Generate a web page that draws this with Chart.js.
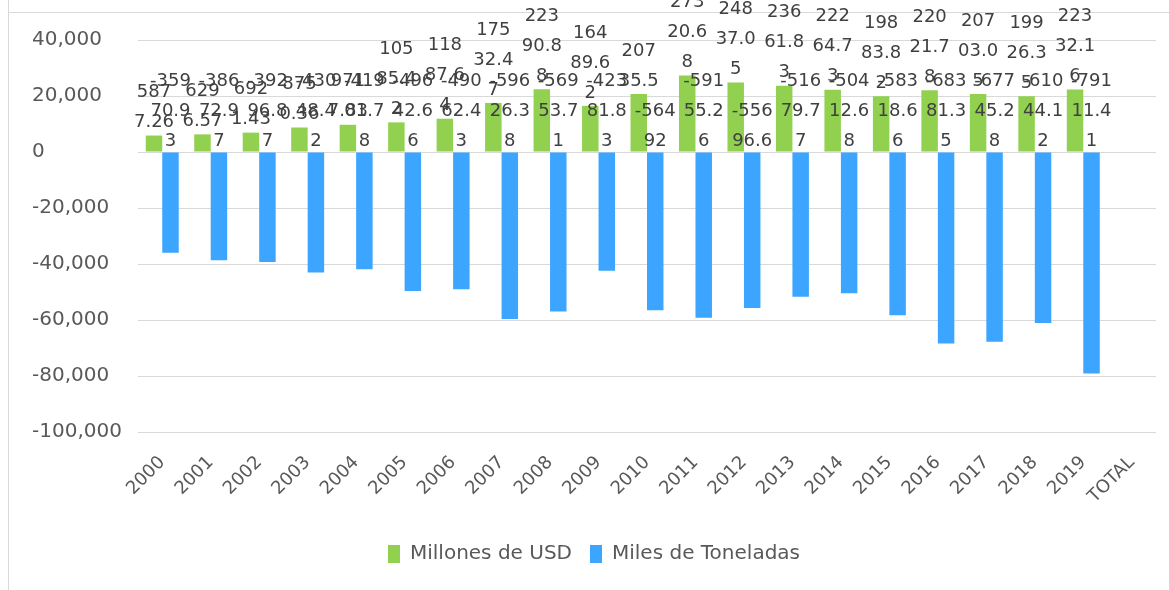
<!DOCTYPE html>
<html>
<head>
<meta charset="utf-8">
<script src="https://cdn.jsdelivr.net/npm/chart.js@4/dist/chart.umd.min.js"></script>
<style>
  html, body { margin: 0; background: #fff; }
  #wrap { width: 1169px; height: 590px; }
</style>
</head>
<body>
<div id="wrap"><canvas id="chart"></canvas></div>
<script>
var categories = ["2000", "2001", "2002", "2003", "2004", "2005", "2006", "2007", "2008", "2009",
  "2010", "2011", "2012", "2013", "2014", "2015", "2016", "2017", "2018", "2019", "TOTAL"];

// Millones de USD
var millonesUsd = [5877.26, 6296.57, 6921.43, 8750.36, 9717.83, 10585.42, 11887.64, 17532.47, 22390.88, 16489.62,
  20735.5, 27320.68, 24837.05, 23661.83, 22264.73, 19883.82, 22021.78, 20703.05, 19926.35, 22332.16, null];

// Miles de Toneladas
var milesToneladas = [-35970.93, -38672.97, -39296.87, -43048.42, -41901.78, -49642.66, -49062.43, -59626.38, -56953.71, -42381.83,
  -56492, -59155.26, -55696.6, -51679.77, -50412.68, -58318.66, -68381.35, -67745.28, -61044.12, -79111.41, null];

var yMin = -100000;
var yMax = 40000;
var yStep = 20000;

var FONT = "DejaVu Sans";

// etiquetas de datos, partidas en lineas estrechas como en Excel
var barLabels = {
  id: "barLabels",
  afterDatasetsDraw: function (chart) {
    var ctx = chart.ctx;
    var zeroY = chart.scales.y.getPixelForValue(0);
    ctx.save();
    ctx.font = "18px '" + FONT + "'";
    ctx.fillStyle = "#404040";
    ctx.textAlign = "center";
    ctx.textBaseline = "middle";
    var maxW = ctx.measureText("000-").width + 1;
    function wrap(s) {
      var out = [], cur = "";
      for (var i = 0; i < s.length; i++) {
        var t = cur + s[i];
        if (cur && ctx.measureText(t).width > maxW) {
          out.push(cur);
          cur = s[i];
        } else {
          cur = t;
        }
      }
      if (cur) out.push(cur);
      return out;
    }
    chart.data.datasets.forEach(function (ds, i) {
      chart.getDatasetMeta(i).data.forEach(function (bar, j) {
        var v = ds.data[j];
        if (v == null) return;
        var lines = wrap(String(v));
        var bottom = v >= 0 ? bar.y - 13 : zeroY - 11;
        lines.forEach(function (ln, k) {
          ctx.fillText(ln, bar.x, bottom - (lines.length - 1 - k) * 30);
        });
      });
    });
    ctx.restore();
  }
};

var frame = {
  id: "frame",
  beforeDraw: function (chart) {
    var ctx = chart.ctx;
    ctx.save();
    ctx.strokeStyle = "#d9d9d9";
    ctx.lineWidth = 1;
    ctx.beginPath();
    ctx.moveTo(8.5, 0);
    ctx.lineTo(8.5, chart.height);
    ctx.moveTo(8, 12.5);
    ctx.lineTo(chart.width, 12.5);
    ctx.stroke();
    ctx.restore();
  }
};

new Chart(document.getElementById("chart"), {
  type: "bar",
  data: {
    labels: categories,
    datasets: [
      {
        label: "Millones de USD",
        data: millonesUsd,
        backgroundColor: "#92D050",
        categoryPercentage: 0.68,
        barPercentage: 1.0,
      },
      {
        label: "Miles de Toneladas",
        data: milesToneladas,
        backgroundColor: "#3BA5FF",
        categoryPercentage: 0.68,
        barPercentage: 1.0,
      },
    ],
  },
  options: {
    responsive: true,
    maintainAspectRatio: false,
    animation: false,
    layout: {
      padding: { top: 40, right: 13, bottom: 16, left: 32 },
    },
    plugins: {
      legend: {
        position: "bottom",
        labels: {
          boxWidth: 12,
          boxHeight: 18,
          padding: 18,
          color: "#595959",
          font: { size: 20, family: FONT },
        },
      },
      tooltip: { enabled: false },
    },
    scales: {
      x: {
        grid: { display: false, drawTicks: false },
        border: { display: false },
        ticks: {
          color: "#595959",
          maxRotation: 45,
          minRotation: 45,
          padding: 20,
          font: { size: 18, family: FONT },
        },
        afterFit: function (scale) { scale.height = 94; },
      },
      y: {
        min: yMin,
        max: yMax,
        grid: { color: "#d9d9d9", drawTicks: false },
        border: { display: false },
        ticks: {
          stepSize: yStep,
          color: "#595959",
          padding: 10,
          crossAlign: "far",
          font: { size: 20, family: FONT },
          callback: function (v) { return v.toLocaleString("en-US"); },
        },
        afterFit: function (scale) { scale.width = 106; },
      },
    },
  },
  plugins: [barLabels, frame],
});
</script>
</body>
</html>
